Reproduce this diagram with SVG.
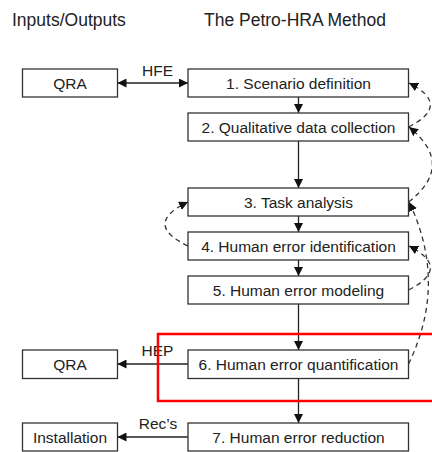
<svg xmlns="http://www.w3.org/2000/svg" width="432" height="452" viewBox="0 0 432 452">
<defs>
<marker id="ah" viewBox="0 0 10 10" refX="10" refY="5" markerWidth="9" markerHeight="9" markerUnits="userSpaceOnUse" orient="auto-start-reverse"><path d="M0,0 L10,5 L0,10 z" fill="#111"/></marker>
<style>
.box{fill:#fff;stroke:#333;stroke-width:1.3}
.t{font-family:"Liberation Sans",Arial,sans-serif;font-size:15.5px;fill:#222;text-anchor:middle}
.h{font-family:"Liberation Sans",Arial,sans-serif;font-size:17.5px;fill:#222}
.c{fill:none;stroke:#222;stroke-width:1.3;marker-end:url(#ah)}
.d{fill:none;stroke:#333;stroke-width:1.3;stroke-dasharray:5,4;marker-end:url(#ah)}
</style>
</defs>
<rect width="432" height="452" fill="#fff"/>
<text class="h" x="12" y="26">Inputs/Outputs</text>
<text class="h" x="204" y="26">The Petro-HRA Method</text>

<g id="connectors">
<path class="c" d="M117.5,83 L188,83" marker-start="url(#ah)"/>
<path class="c" d="M298.5,97 V113"/>
<path class="c" d="M298.5,141 V188"/>
<path class="c" d="M298.5,216 V232"/>
<path class="c" d="M298.5,260 V276"/>
<path class="c" d="M298.5,304 V350"/>
<path class="c" d="M298.5,378.5 V423"/>
<path class="c" d="M188,364 H117.5"/>
<path class="c" d="M188,437 H117.5"/>
<path class="d" d="M408.5,127 Q452,105 409,83"/>
<path class="d" d="M408.5,202 Q456,165 409,127"/>
<path class="d" d="M408.5,364 Q448,283 409,202"/>
<path class="d" d="M408.5,290 Q452,268 409,246"/>
<path class="d" d="M188,246 Q142,224 188,202"/>
<text class="t" x="157.5" y="76">HFE</text>
<text class="t" x="157.5" y="356">HEP</text>
<text class="t" x="158" y="429">Rec’s</text>
</g>

<g id="qra1"><rect class="box" x="22.5" y="69" width="95" height="28"/><text class="t" x="70" y="88.5">QRA</text></g>
<g id="qra2"><rect class="box" x="22.5" y="350" width="95" height="28.5"/><text class="t" x="70" y="370">QRA</text></g>
<g id="installation"><rect class="box" x="22.5" y="423" width="95" height="28"/><text class="t" x="70" y="443">Installation</text></g>

<g id="s1"><rect class="box" x="188" y="69" width="220.5" height="28"/><text class="t" x="298.5" y="88.5">1. Scenario definition</text></g>
<g id="s2"><rect class="box" x="188" y="113" width="220.5" height="28"/><text class="t" x="298.5" y="132.5">2. Qualitative data collection</text></g>
<g id="s3"><rect class="box" x="188" y="188" width="220.5" height="28"/><text class="t" x="298.5" y="207.5">3. Task analysis</text></g>
<g id="s4"><rect class="box" x="188" y="232" width="220.5" height="28"/><text class="t" x="298.5" y="251.5">4. Human error identification</text></g>
<g id="s5"><rect class="box" x="188" y="276" width="220.5" height="28"/><text class="t" x="298.5" y="295.5">5. Human error modeling</text></g>
<g id="s6"><rect class="box" x="188" y="350" width="220.5" height="28.5"/><text class="t" x="298.5" y="370">6. Human error quantification</text></g>
<g id="s7"><rect class="box" x="188" y="423" width="220.5" height="28"/><text class="t" x="298.5" y="443">7. Human error reduction</text></g>

<rect id="highlight" x="158" y="334" width="290" height="67" fill="none" stroke="#ff0000" stroke-width="2.5"/>
</svg>
